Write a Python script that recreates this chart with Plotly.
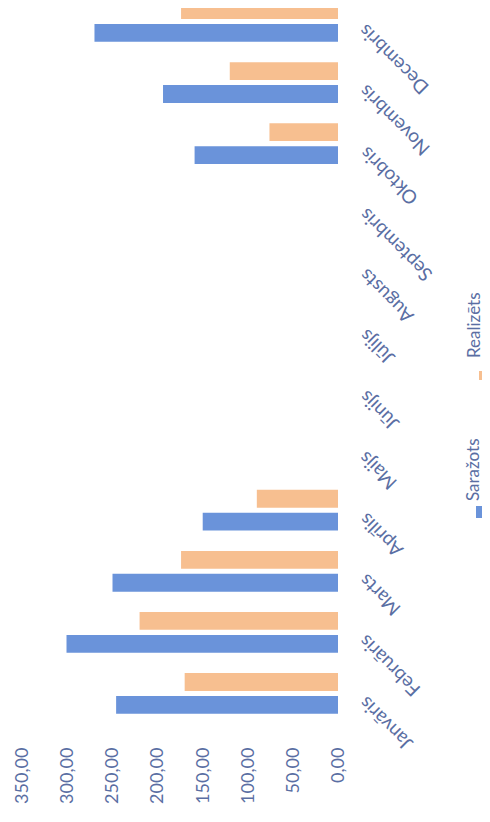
import plotly.graph_objects as go

months = ["Janvāris", "Februāris", "Marts", "Aprīlis", "Maijs", "Jūnijs",
          "Jūlijs", "Augusts", "Septembris", "Oktobris", "Novembris", "Decembris"]
sarazots = [246, 301, 250, 150, None, None, None, None, None, 159, 194, 270]
realizets = [170, 220, 174, 90, None, None, None, None, None, 76, 120, 174]
tick_vals = [0, 50, 100, 150, 200, 250, 300, 350]

# page has an 8px body margin, so the figure is 8px smaller on each axis
W, H = 482, 814
ML, MR, MT, MB = 8, 152, 0, 98
XMAX = 357
TXT = "#5a6ea3"
FONT = "Lato"
OFF = 8

def px(x):  # page pixel -> paper x
    return (x - OFF - ML) / (W - ML - MR)

def py(y):  # page pixel -> paper y
    return (H - MB - (y - OFF)) / (H - MT - MB)

fig = go.Figure()
fig.add_trace(go.Bar(y=months, x=sarazots, orientation="h", name="Saražots",
                     marker=dict(color="#6a93da", line=dict(width=0))))
fig.add_trace(go.Bar(y=months, x=realizets, orientation="h", name="Realizēts",
                     marker=dict(color="#f7bf90", line=dict(width=0))))

annotations = []
for m in months:
    annotations.append(dict(x=1, xref="paper", y=m, yref="y", xshift=13, yshift=4,
                            text=m, showarrow=False, textangle=-135,
                            xanchor="left", yanchor="top",
                            font=dict(family=FONT, size=19, color=TXT)))
# legend (rotated)
annotations.append(dict(x=px(473), y=py(470), xref="paper", yref="paper", text="Saražots",
                        showarrow=False, textangle=-90, xanchor="center", yanchor="middle",
                        font=dict(family=FONT, size=17, color=TXT)))
annotations.append(dict(x=px(473), y=py(325), xref="paper", yref="paper", text="Realizēts",
                        showarrow=False, textangle=-90, xanchor="center", yanchor="middle",
                        font=dict(family=FONT, size=17, color=TXT)))
shapes = [
    dict(type="rect", xref="paper", yref="paper", x0=px(476), x1=px(487), y0=py(518), y1=py(506),
         fillcolor="#6a93da", line=dict(width=0)),
    dict(type="rect", xref="paper", yref="paper", x0=px(479), x1=px(487), y0=py(380), y1=py(371),
         fillcolor="#f7bf90", line=dict(width=0)),
]

fig.update_layout(
    width=W, height=H,
    margin=dict(l=ML, r=MR, t=MT, b=MB),
    paper_bgcolor="white", plot_bgcolor="white",
    barmode="group", bargap=0.25, bargroupgap=0.22,
    showlegend=False,
    separators=", ",
    xaxis=dict(range=[XMAX, 0], tickvals=tick_vals, tickformat=".2f", tickangle=-90,
               showgrid=False, zeroline=False, showline=False,
               ticks="", ticklabelstandoff=19,
               tickfont=dict(family=FONT, size=18, color=TXT)),
    yaxis=dict(type="category", categoryorder="array", categoryarray=months,
               range=[-0.5, 11.22], showticklabels=False, showgrid=False,
               zeroline=False, showline=False, ticks=""),
    annotations=annotations, shapes=shapes,
)

fig.write_html("out.html")
